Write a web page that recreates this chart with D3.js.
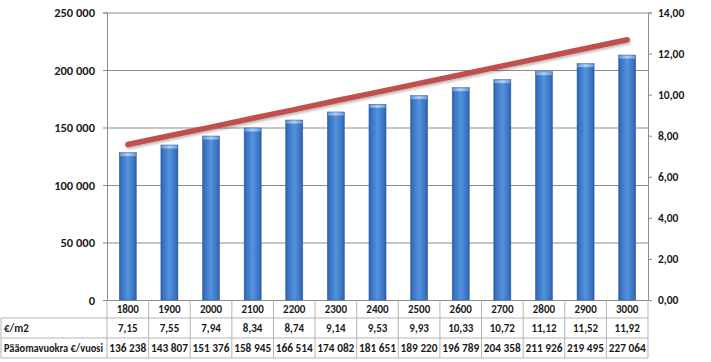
<!DOCTYPE html>
<html><head><meta charset="utf-8">
<script src="https://cdn.jsdelivr.net/npm/d3@7"></script>
<style>
html,body{margin:0;padding:0;background:#fff;}
svg{display:block;}
text{font-family:Carlito,Lato,"Liberation Sans",sans-serif;font-weight:bold;fill:#1a1a1a;}
</style></head>
<body><svg id="c" width="711" height="362"></svg>
<script>
const categories = [1800,1900,2000,2100,2200,2300,2400,2500,2600,2700,2800,2900,3000];
const barValues = [128100,134800,142600,149600,156500,163500,170200,177700,184600,191600,198500,205500,213000];
const lineValues = [7.57,8.00,8.42,8.85,9.27,9.70,10.12,10.55,10.97,11.40,11.82,12.25,12.67];
const rowLabels = ["€/m2","Pääomavuokra €/vuosi"];
const m2Row = ["7,15","7,55","7,94","8,34","8,74","9,14","9,53","9,93","10,33","10,72","11,12","11,52","11,92"];
const annualRow = ["136 238","143 807","151 376","158 945","166 514","174 082","181 651","189 220","196 789","204 358","211 926","219 495","227 064"];
const leftTicks = [0,50000,100000,150000,200000,250000];
const rightTicks = [0,2,4,6,8,10,12,14];

const svg = d3.select("#c");
const L = 107, R = 648, T = 12.5, B = 300;
const x = d3.scaleBand().domain(categories).range([L,R]).paddingInner(0.59).paddingOuter(0.295);
const xb = d3.scaleBand().domain(categories).range([L,R]);
const yL = d3.scaleLinear().domain([0,250000]).range([B,T]);
const yR = d3.scaleLinear().domain([0,14]).range([B,T]);

const defs = svg.append("defs");
const g = defs.append("linearGradient").attr("id","bar").attr("x1","0").attr("x2","1").attr("y1","0").attr("y2","0");
g.append("stop").attr("offset","0").attr("stop-color","#2b5ea8");
g.append("stop").attr("offset","0.15").attr("stop-color","#3a74c4");
g.append("stop").attr("offset","0.5").attr("stop-color","#5692de");
g.append("stop").attr("offset","0.85").attr("stop-color","#3a74c4");
g.append("stop").attr("offset","1").attr("stop-color","#2b5ea8");
const gc = defs.append("linearGradient").attr("id","cap").attr("x1","0").attr("x2","1");
gc.append("stop").attr("offset","0").attr("stop-color","#6a9ad8");
gc.append("stop").attr("offset","0.5").attr("stop-color","#b4d0f3");
gc.append("stop").attr("offset","1").attr("stop-color","#6a9ad8");
const sh = defs.append("filter").attr("id","sh").attr("x","-5%").attr("y","-50%").attr("width","110%").attr("height","200%");
sh.append("feDropShadow").attr("dx",1).attr("dy",2).attr("stdDeviation",1.2).attr("flood-color","#000").attr("flood-opacity",0.25);

// gridlines (left axis)
svg.append("g").attr("transform",`translate(${L},0)`)
  .call(d3.axisLeft(yL).tickValues(leftTicks).tickSize(-(R-L)).tickFormat(""))
  .call(a=>a.select(".domain").remove())
  .call(a=>a.selectAll(".tick line").attr("stroke","#8c8c8c").attr("stroke-width",1));

// left axis
const fmtL = v => d3.format(",")(v).replace(/,/g," ");
svg.append("g").attr("transform",`translate(${L},0)`)
  .call(d3.axisLeft(yL).tickValues(leftTicks).tickSize(4).tickPadding(8).tickFormat(fmtL))
  .call(a=>a.select(".domain").attr("stroke","#8c8c8c"))
  .call(a=>a.selectAll(".tick line").attr("stroke","#8c8c8c"))
  .call(a=>a.selectAll("text").style("font-size","12.5px").attr("fill","#1a1a1a"));

// right axis
svg.append("g").attr("transform",`translate(${R},0)`)
  .call(d3.axisRight(yR).tickValues(rightTicks).tickSize(4).tickPadding(6).tickFormat(v=>d3.format(".2f")(v).replace(".",",")))
  .call(a=>a.select(".domain").attr("stroke","#8c8c8c"))
  .call(a=>a.selectAll(".tick line").attr("stroke","#8c8c8c"))
  .call(a=>a.selectAll("text").style("font-size","11.5px").attr("fill","#1a1a1a"));

// bars
const bars = svg.append("g");
bars.selectAll("rect.b").data(categories).join("rect").attr("class","b")
  .attr("x",d=>x(d)).attr("width",x.bandwidth())
  .attr("y",(d,i)=>yL(barValues[i])).attr("height",(d,i)=>B-yL(barValues[i]))
  .attr("fill","url(#bar)").attr("stroke","#2f5f9e").attr("stroke-width",0.5);
bars.selectAll("rect.c").data(categories).join("rect").attr("class","c")
  .attr("x",d=>x(d)+0.5).attr("width",x.bandwidth()-1)
  .attr("y",(d,i)=>yL(barValues[i])+0.5).attr("height",3)
  .attr("fill","url(#cap)");

// line
svg.append("path").datum(lineValues)
  .attr("d",d3.line().x((d,i)=>xb(categories[i])+xb.bandwidth()/2).y(d=>yR(d)))
  .attr("fill","none").attr("stroke","#c0504d").attr("stroke-width",5.5).attr("stroke-linecap","round")
  .attr("filter","url(#sh)");

// data table
const tbl = svg.append("g");
const lc = "#b5b5b5";
[318,338,358].forEach(y=>tbl.append("line").attr("x1",1).attr("x2",R).attr("y1",y).attr("y2",y).attr("stroke",lc));
const bounds = categories.map(c=>xb(c)).concat([R]);
bounds.forEach(xx=>tbl.append("line").attr("x1",xx).attr("x2",xx).attr("y1",B).attr("y2",358).attr("stroke",lc));
tbl.append("line").attr("x1",1).attr("x2",1).attr("y1",318).attr("y2",358).attr("stroke",lc);

const cx = c => xb(c)+xb.bandwidth()/2;
tbl.selectAll("text.h").data(categories).join("text").attr("class","h")
  .attr("x",cx).attr("y",313).attr("text-anchor","middle").style("font-size","11px").text(d=>d);
tbl.selectAll("text.m").data(categories).join("text").attr("class","m")
  .attr("x",cx).attr("y",332).attr("text-anchor","middle").style("font-size","11px").text((d,i)=>m2Row[i]);
tbl.selectAll("text.a").data(categories).join("text").attr("class","a")
  .attr("x",cx).attr("y",352).attr("text-anchor","middle").style("font-size","11px")
  .attr("textLength",37).attr("lengthAdjust","spacingAndGlyphs").text((d,i)=>annualRow[i]);
tbl.selectAll("text.l").data(rowLabels).join("text").attr("class","l")
  .attr("x",4).attr("y",(d,i)=>i?352:332).style("font-size","11px")
  .attr("textLength",(d,i)=>i?99:null).attr("lengthAdjust","spacingAndGlyphs").text(d=>d);
</script></body></html>
